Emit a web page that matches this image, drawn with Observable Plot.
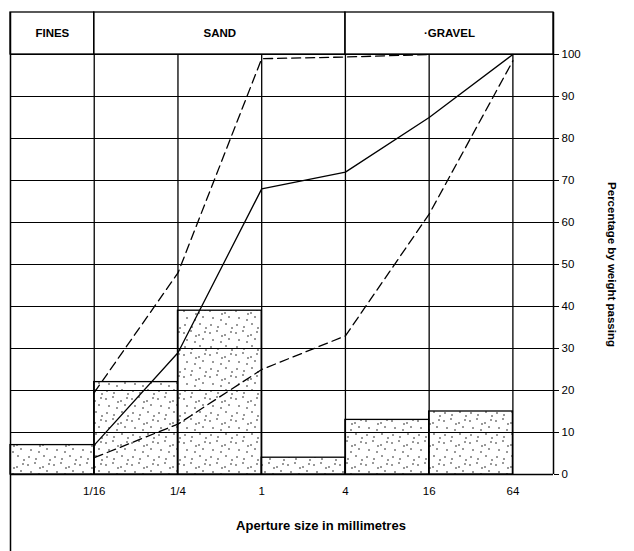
<!DOCTYPE html>
<html><head><meta charset="utf-8">
<script src="https://cdn.jsdelivr.net/npm/d3@7"></script>
<script src="https://cdn.jsdelivr.net/npm/@observablehq/plot@0.6"></script>
<style>body{margin:0;background:#fff} svg{display:block}</style>
</head><body><div id="chart"></div>
<script>
// ---- data ----
const binEdges = [1/64, 1/16, 1/4, 1, 4, 16, 64];
const binPercent = [7, 22, 39, 4, 13, 15];
const sieveSizes = [1/16, 1/4, 1, 4, 16, 64];
const sieveLabels = ["1/16", "1/4", "1", "4", "16", "64"];
const passingSample = [7, 29, 68, 72, 85, 100];
const passingUpper = [19.5, 48, 99, 99.4, 100];
const passingLower = [4, 12, 25, 33, 62, 98.5];
const yTicks = [0, 10, 20, 30, 40, 50, 60, 70, 80, 90, 100];
const classNames = ["FINES", "SAND", "·GRAVEL"];
const xMin = 1/64;
const xMax = 64 * Math.pow(4, 0.485);
const classEdges = [xMin, 1/16, 4, xMax];
const xTitle = "Aperture size in millimetres";
const yTitle = "Percentage by weight passing";

// ---- derived tables ----
const bins = binPercent.map((p, i) => ({x1: binEdges[i], x2: binEdges[i + 1], p}));
const classes = classNames.map((name, i) => ({name, x1: classEdges[i], x2: classEdges[i + 1]}));
const sample = sieveSizes.map((x, i) => ({x, y: passingSample[i]}));
const upper = passingUpper.map((y, i) => ({x: sieveSizes[i], y}));
const lower = passingLower.map((y, i) => ({x: sieveSizes[i], y}));
const fmt = d => sieveLabels[sieveSizes.indexOf(d)];

const defs = () => {
  const g = d3.create("svg:defs");
  const pat = g.append("pattern").attr("id", "stipple").attr("patternUnits", "userSpaceOnUse")
    .attr("width", 26).attr("height", 22);
  pat.append("rect").attr("width", 26).attr("height", 22).attr("fill", "#fff");
  [[2,3],[9,1],[17,5],[23,2],[5,10],[13,12],[21,9],[3,17],[10,19],[18,16],[24,20],[14,6]]
    .forEach(([cx, cy]) => pat.append("circle").attr("cx", cx).attr("cy", cy).attr("r", 0.75).attr("fill", "#000"));
  return g.node();
};

const chart = Plot.plot({
  width: 634, height: 551,
  marginLeft: 10, marginRight: 81, marginTop: 54, marginBottom: 77,
  x: {type: "log", base: 4, domain: [xMin, xMax]},
  y: {domain: [0, 100]},
  style: {fontFamily: "'Liberation Sans', Arial, sans-serif", fontSize: "11px", color: "#000", background: "#fff"},
  marks: [
    defs,
    Plot.rect(bins, {x1: "x1", x2: "x2", y1: 0, y2: "p", fill: "url(#stipple)"}),
    Plot.ruleY(yTicks, {x1: xMin, x2: xMax, stroke: "#000", strokeWidth: 1}),
    Plot.ruleX(sieveSizes, {y1: 0, y2: 100, stroke: "#000", strokeWidth: 1.3}),
    Plot.rect(bins, {x1: "x1", x2: "x2", y1: 0, y2: "p", fill: "none", stroke: "#000", strokeWidth: 1.3}),
    Plot.rect(classes, {x1: "x1", x2: "x2", y1: 100, y2: 110, fill: "none", stroke: "#000", strokeWidth: 1.3}),
    Plot.text(classes, {x: d => Math.sqrt(d.x1 * d.x2), y: 105, text: "name", fontWeight: "bold", fontSize: 11.5}),
    Plot.ruleX([xMin], {y1: -19, y2: 110, stroke: "#000", strokeWidth: 1.5}),
    Plot.ruleX([xMax], {y1: 0, y2: 110, stroke: "#000", strokeWidth: 1.5}),
    Plot.ruleY([0], {x1: xMin, x2: xMax, stroke: "#000", strokeWidth: 1.5}),
    Plot.line(upper, {x: "x", y: "y", stroke: "#000", strokeWidth: 1.3, strokeDasharray: "9,5"}),
    Plot.line(lower, {x: "x", y: "y", stroke: "#000", strokeWidth: 1.3, strokeDasharray: "9,5"}),
    Plot.line(sample, {x: "x", y: "y", stroke: "#000", strokeWidth: 1.3}),
    Plot.axisX({ticks: sieveSizes, tickFormat: fmt, tickSize: 0, tickPadding: 12, label: null, fontSize: 11.5}),
    Plot.axisY({anchor: "right", ticks: yTicks, tickSize: 5, tickPadding: 3, label: null, fontSize: 11.5}),
    Plot.text([xTitle], {frameAnchor: "bottom", dx: 39, dy: 51, lineAnchor: "middle", textAnchor: "middle", fontWeight: "bold", fontSize: 13}),
    Plot.text([yTitle], {frameAnchor: "right", dx: 58, rotate: 90, lineAnchor: "middle", textAnchor: "middle", fontWeight: "bold", fontSize: 11.5})
  ]
});
document.getElementById("chart").append(chart);
</script>
</body></html>
